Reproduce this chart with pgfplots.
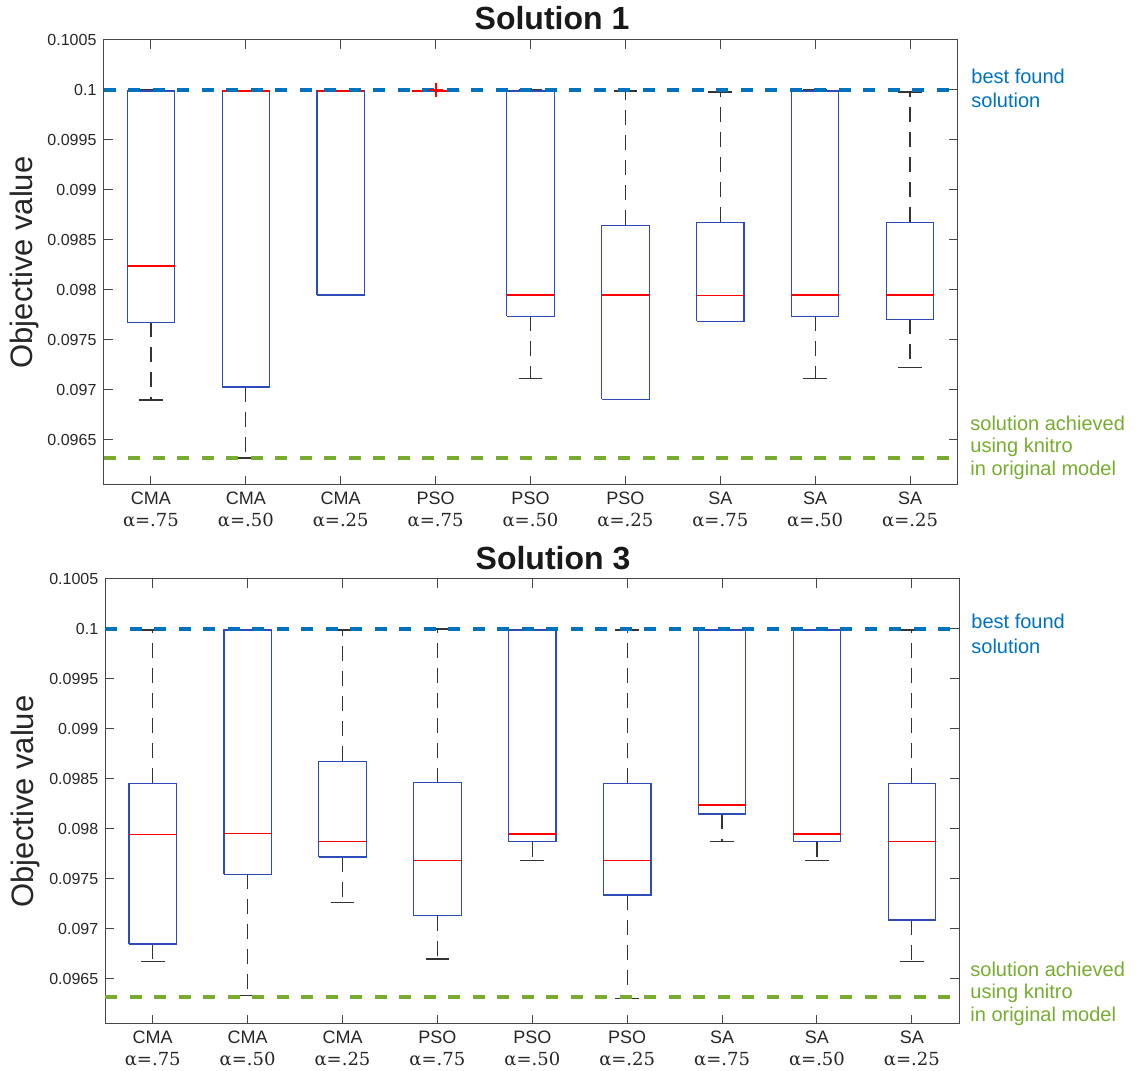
\documentclass[border=0pt]{standalone}
\usepackage{fontspec}
\setmainfont{Liberation Sans}
\newfontfamily\alphafont{DejaVu Serif}
\usepackage{pgfplots}
\pgfplotsset{compat=1.18}
\definecolor{boxblue}{RGB}{45,75,185}
\definecolor{mblue}{RGB}{0,114,189}
\definecolor{mgreen}{RGB}{119,172,48}
\definecolor{axgray}{RGB}{70,70,70}
\definecolor{txtgray}{RGB}{38,38,38}
\tikzset{whisk/.style={black!80, line width=0.6pt, dash pattern=on 7.5pt off 5pt},
         wcap/.style={black!80, line width=0.6pt, solid},
         boxline/.style={boxblue, line width=0.6pt, solid, line join=miter},
         medline/.style={red, line width=0.6pt, solid}}
% box: #1 position, #2 lower whisker, #3 lower quartile, #4 median, #5 upper quartile, #6 upper whisker
\newcommand\bx[6]{%
  \pgfmathsetmacro\bxL{#1-0.25}%
  \pgfmathsetmacro\bxR{#1+0.25}%
  \pgfmathsetmacro\cpL{#1-0.125}%
  \pgfmathsetmacro\cpR{#1+0.125}%
  \edef\doit{%
    \noexpand\addplot[whisk] coordinates {(#1,#3) (#1,#2)};
    \noexpand\addplot[whisk] coordinates {(#1,#5) (#1,#6)};
    \noexpand\addplot[wcap] coordinates {(\cpL,#2) (\cpR,#2)};
    \noexpand\addplot[wcap] coordinates {(\cpL,#6) (\cpR,#6)};
    \noexpand\addplot[boxline] coordinates {(\bxL,#3) (\bxR,#3) (\bxR,#5) (\bxL,#5) (\bxL,#3)};
    \noexpand\addplot[medline] coordinates {(\bxL,#4) (\bxR,#4)};
  }\doit}
\pgfplotsset{
  myax/.style={
    scale only axis, width=427pt, height=222.5pt,
    xmin=0.5, xmax=9.5, ymin=0.09605, ymax=0.1005,
    xtick={1,2,3,4,5,6,7,8,9},
    xticklabels={{CMA\\{\alphafont α=.75}},{CMA\\{\alphafont α=.50}},{CMA\\{\alphafont α=.25}},
                 {PSO\\{\alphafont α=.75}},{PSO\\{\alphafont α=.50}},{PSO\\{\alphafont α=.25}},
                 {SA\\{\alphafont α=.75}},{SA\\{\alphafont α=.50}},{SA\\{\alphafont α=.25}}},
    ytick={0.0965,0.097,0.0975,0.098,0.0985,0.099,0.0995,0.1,0.1005},
    yticklabels={0.0965,0.097,0.0975,0.098,0.0985,0.099,0.0995,0.1,0.1005},
    axis line style={axgray, line width=0.5pt},
    tick style={axgray, line width=0.5pt},
    major tick length=4.5pt,
    tick align=inside,
    xticklabel style={align=center, font=\fontsize{9}{11}\selectfont, text=txtgray},
    yticklabel style={font=\fontsize{8}{9.6}\selectfont, text=txtgray},
    clip=false,
  },
  bestline/.style={mblue, line width=2pt, dash pattern=on 6pt off 6.25pt},
  knitline/.style={mgreen, line width=2pt, dash pattern=on 6pt off 6.25pt},
}
\begin{document}
\begin{tikzpicture}
\path[use as bounding box] (0,0) rectangle (570.5pt,535.5pt);
% ---------------- Solution 1 ----------------
\begin{axis}[myax, at={(51.75pt,293pt)}, anchor=south west]
\bx{1}{0.0969}{0.097677}{0.09824}{0.09999}{0.1}
\bx{2}{0.09632}{0.09703}{0.09999}{0.09999}{0.09999}
\bx{3}{0.09795}{0.09795}{0.09999}{0.09999}{0.09999}
\bx{4}{0.09999}{0.09999}{0.09999}{0.09999}{0.09999}
\bx{5}{0.097113}{0.097737}{0.09795}{0.09999}{0.1}
\bx{6}{0.096907}{0.096907}{0.09795}{0.098647}{0.09999}
\bx{7}{0.097687}{0.097687}{0.097943}{0.098677}{0.09998}
\bx{8}{0.097113}{0.097737}{0.09795}{0.09999}{0.1}
\bx{9}{0.097223}{0.097707}{0.09795}{0.098677}{0.09998}
\addplot[bestline] coordinates {(0.5,0.1) (9.5,0.1)};
\addplot[knitline] coordinates {(0.5,0.09632) (9.5,0.09632)};
\addplot[only marks, mark=+, mark size=3.5pt, mark options={draw=red, line width=1pt, solid}] coordinates {(4,0.10000)};
\end{axis}
% ---------------- Solution 3 ----------------
\begin{axis}[myax, at={(52.65pt,23.5pt)}, anchor=south west]
\bx{1}{0.096673}{0.09685}{0.097947}{0.098457}{0.09999}
\bx{2}{0.096333}{0.097547}{0.097953}{0.09999}{0.09999}
\bx{3}{0.097263}{0.09772}{0.097873}{0.098677}{0.09999}
\bx{4}{0.0967}{0.097133}{0.097687}{0.098463}{0.1}
\bx{5}{0.097687}{0.097873}{0.09795}{0.09999}{0.09999}
\bx{6}{0.096307}{0.09734}{0.097687}{0.098457}{0.09999}
\bx{7}{0.097873}{0.09815}{0.09824}{0.09999}{0.09999}
\bx{8}{0.097687}{0.097873}{0.09795}{0.09999}{0.09999}
\bx{9}{0.096673}{0.09709}{0.097873}{0.098457}{0.09999}
\addplot[bestline] coordinates {(0.5,0.1) (9.5,0.1)};
\addplot[knitline] coordinates {(0.5,0.09632) (9.5,0.09632)};
\end{axis}
% ---------------- texts ----------------
\node[font=\bfseries\fontsize{16}{19}\selectfont, text=black!90] at (276pt,526.3pt) {Solution 1};
\node[font=\bfseries\fontsize{16}{19}\selectfont, text=black!90] at (276.5pt,256.3pt) {Solution 3};
\node[rotate=90, anchor=base, font=\fontsize{15.5}{18}\selectfont, text=txtgray] at (16.5pt,404.25pt) {Objective value};
\node[rotate=90, anchor=base, font=\fontsize{15.5}{18}\selectfont, text=txtgray] at (17pt,134.75pt) {Objective value};
\node[anchor=west, align=left, inner sep=0pt, font=\fontsize{10}{12}\selectfont, text=mblue] at (485.5pt,491.5pt) {best found\\solution};
\node[anchor=west, align=left, inner sep=0pt, font=\fontsize{10}{11.3}\selectfont, text=mgreen] at (485pt,311.65pt) {solution achieved\\using knitro\\in original model};
\node[anchor=west, align=left, inner sep=0pt, font=\fontsize{10}{12.5}\selectfont, text=mblue] at (485.5pt,218.4pt) {best found\\solution};
\node[anchor=west, align=left, inner sep=0pt, font=\fontsize{10}{11.3}\selectfont, text=mgreen] at (485pt,38.7pt) {solution achieved\\using knitro\\in original model};
\end{tikzpicture}
\end{document}
